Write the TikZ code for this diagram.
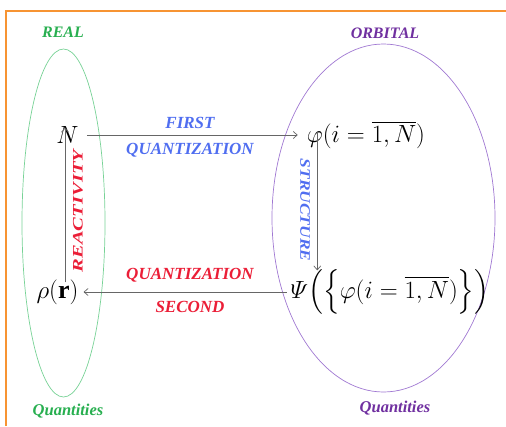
\documentclass[tikz,border=0pt]{standalone}
\usepackage{amsmath}
\usepackage{fontspec}
\usetikzlibrary{arrows.meta}
\setmainfont{Liberation Serif}
\definecolor{realgreen}{RGB}{40,175,80}
\definecolor{ellgreen}{RGB}{120,210,150}
\definecolor{orbpurple}{RGB}{112,48,160}
\definecolor{ellpurple}{RGB}{160,120,210}
\definecolor{qblue}{RGB}{80,110,240}
\definecolor{qred}{RGB}{235,30,55}
\definecolor{frameorange}{RGB}{247,148,50}
\tikzset{
  lbl/.style={font=\fontsize{16}{18}\selectfont\bfseries\itshape, inner sep=1pt},
  albl/.style={font=\fontsize{17}{19}\selectfont\bfseries\itshape, inner sep=1pt},
  vlbl/.style={font=\fontsize{14.5}{16}\selectfont\bfseries\itshape, inner sep=1pt},
  qlbl/.style={font=\fontsize{16.5}{18}\selectfont\bfseries\itshape, inner sep=1pt},
  mathnode/.style={font=\fontsize{23}{25}\selectfont, inner sep=0pt},
  arr/.style={-{Straight Barb[length=4pt,width=7pt,line width=0.7pt]}, draw=gray!80!black, line width=0.7pt},
}
\begin{document}
\begin{tikzpicture}[x=1pt,y=-1pt]
\useasboundingbox (0,0) rectangle (506,426);
% frame
\draw[frameorange, line width=2pt] (6,426) -- (6,11) -- (506,11);
% ellipses
\draw[ellgreen, line width=0.7pt] (63.5,223) ellipse [x radius=41.5, y radius=174];
\draw[ellpurple, line width=0.7pt] (383.5,218) ellipse [x radius=111.5, y radius=174];
% headers
\node[lbl, text=realgreen] (real) at (63,32) {REAL};
\node[lbl, text=orbpurple] (orb) at (385,33) {ORBITAL};
\node[qlbl, text=realgreen] (q1) at (68,411) {Quantities};
\node[qlbl, text=orbpurple] (q2) at (395,408) {Quantities};
% math nodes
\node[mathnode] (N) at (67.5,135) {$N$};
\node[mathnode] (phi) at (366,135) {$\varphi(i=\overline{1,N})$};
\node[mathnode, font=\fontsize{26}{28}\selectfont] (rho) at (57.5,292) {$\rho(\mathbf{r})$};
\node[mathnode] (Psi) at (390,292) {$\varPsi\Bigl(\Bigl\{\varphi(i=\overline{1,N})\Bigr\}\Bigr)$};
% connectors
\draw[arr] ([xshift=8pt]N.east) -- ([xshift=-9pt]phi.west);
\draw[arr] ([xshift=-4pt]Psi.west) -- ([xshift=5pt]rho.east);
\draw[arr] ([xshift=-2.5pt,yshift=-3pt]rho.north -| N.south) -- ([xshift=-2.5pt,yshift=16pt]N.south);
\draw[arr] ([xshift=10.5pt,yshift=17pt]phi.south west) -- ([xshift=10.5pt,yshift=-1pt]phi.south west |- Psi.north);
% labels
\node[albl, text=qblue] (first) at (190,123) {FIRST};
\node[albl, text=qblue] (quant1) at (190,150) {QUANTIZATION};
\node[albl, text=qred] (quant2) at (190,275) {QUANTIZATION};
\node[albl, text=qred] (second) at (190,307) {SECOND};
\node[vlbl, text=qred, rotate=90] (react) at (78,211) {\scalebox{1.42}[1]{REACTIVITY}};
\node[vlbl, text=qblue, rotate=-90] (struct) at (305,210) {\scalebox{1.2}[1]{STRUCTURE}};
\end{tikzpicture}
\end{document}
